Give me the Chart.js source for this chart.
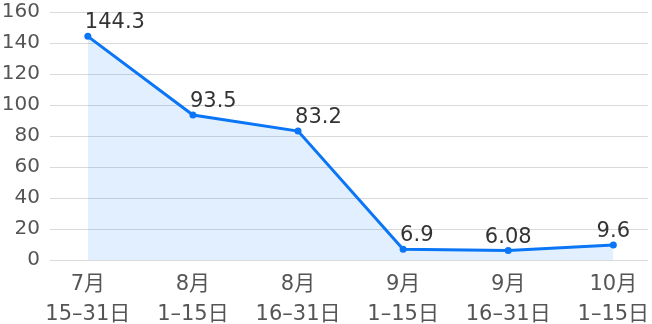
<!DOCTYPE html>
<html lang="zh">
<head>
  <meta charset="UTF-8" />
  <title>Line Chart</title>
  <script src="https://cdn.jsdelivr.net/npm/chart.js"></script>
  <style>
    html, body { margin: 0; padding: 0; background: #fff; }
    #wrap { width: 652px; height: 324px; }
  </style>
</head>
<body>
  <div id="wrap"><canvas id="chart"></canvas></div>

  <script>
    const months = ["7月", "8月", "8月", "9月", "9月", "10月"];
    const ranges = ["15–31日", "1–15日", "16–31日", "1–15日", "16–31日", "1–15日"];
    const values = [144.3, 93.5, 83.2, 6.9, 6.08, 9.6];
    const valueLabels = ["144.3", "93.5", "83.2", "6.9", "6.08", "9.6"];

    const FONT = '"DejaVu Sans", "Noto Sans CJK SC", sans-serif';
    const BLUE = "#0a76f6";

    const pointLabels = {
      id: "pointLabels",
      afterDatasetsDraw(chart) {
        const ctx = chart.ctx;
        const meta = chart.getDatasetMeta(0);
        ctx.save();
        ctx.font = "21px " + FONT;
        ctx.fillStyle = "#333";
        ctx.textBaseline = "alphabetic";
        meta.data.forEach((pt, i) => {
          const falling = i < values.length - 1 && values[i + 1] < values[i];
          ctx.textAlign = falling ? "left" : "center";
          const x = falling ? pt.x - 3 : pt.x;
          ctx.fillText(valueLabels[i], x, pt.y - 8);
        });
        ctx.restore();
      }
    };

    new Chart(document.getElementById("chart"), {
      type: "line",
      data: {
        datasets: [{
          data: values.map((v, i) => ({ x: i, y: v })),
          borderColor: BLUE,
          backgroundColor: "rgba(20, 120, 250, 0.12)",
          borderWidth: 3,
          pointRadius: 3.5,
          pointBackgroundColor: BLUE,
          pointBorderWidth: 0,
          fill: "origin",
          tension: 0
        }]
      },
      options: {
        responsive: true,
        maintainAspectRatio: false,
        animation: false,
        layout: { padding: { top: 12, right: 2, left: 0, bottom: 0 } },
        plugins: { legend: { display: false }, tooltip: { enabled: false } },
        scales: {
          x: {
            type: "linear",
            min: -0.36,
            max: 5.33,
            grid: { display: false, drawTicks: false },
            border: { display: false },
            afterBuildTicks: scale => {
              scale.ticks = values.map((v, i) => ({ value: i }));
            },
            afterFit: scale => {
              scale.paddingLeft = 0;
              scale.paddingRight = 0;
              scale.height = 64;
            },
            ticks: {
              autoSkip: false,
              maxRotation: 0,
              padding: 10,
              color: "#555",
              font: { family: FONT, size: 21, lineHeight: 1.4 },
              callback: v => [months[v], ranges[v]]
            }
          },
          y: {
            min: 0,
            max: 160,
            grid: { color: "#d9d9d9", drawTicks: false, lineWidth: 1 },
            border: { display: false },
            afterFit: scale => {
              scale.width = 50;
              scale.paddingTop = 0;
              scale.paddingBottom = 0;
            },
            ticks: {
              stepSize: 20,
              padding: 10,
              color: "#555",
              font: { family: FONT, size: 20 }
            }
          }
        }
      },
      plugins: [pointLabels]
    });
  </script>
</body>
</html>
